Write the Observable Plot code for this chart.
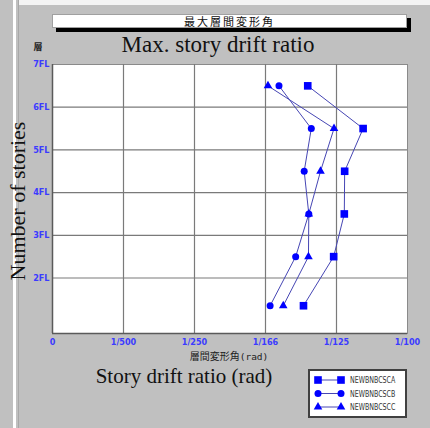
<!DOCTYPE html>
<html>
<head>
<meta charset="utf-8">
<script src="https://cdn.jsdelivr.net/npm/d3@7"></script>
<script src="https://cdn.jsdelivr.net/npm/@observablehq/plot@0.6"></script>
<style>
  html, body { margin: 0; padding: 0; background: #c0c0c0; }
  #wrap { position: relative; width: 430px; height: 428px; overflow: hidden; background: #c0c0c0; }
  .abs { position: absolute; }
  #chart { position: absolute; left: 0; top: 0; }
  .serif { font-family: "Liberation Serif", "DejaVu Serif", serif; color: #111; white-space: nowrap; }
</style>
</head>
<body>
<div id="wrap">
  <div class="abs" style="left:13px;top:0;width:3px;height:428px;background:#ffffff"></div>
  <div class="abs" style="left:18px;top:0;width:1px;height:428px;background:#a8a8a8"></div>
  <div class="abs" style="left:19px;top:0;width:411px;height:5px;background:#f4f4f4"></div>
  <div id="chart"></div>
  <div class="abs" id="titlebox" style="left:52px;top:14px;width:353px;height:12px;background:#fff;border:1px solid #a0a0a0;box-shadow:4px 4px 0 #000;font:11px 'Noto Sans CJK JP',sans-serif;letter-spacing:2px;line-height:12px;text-align:center;color:#111"></div>
  <div class="abs serif" id="title" style="left:0;width:436px;top:33px;text-align:center;font-size:23px;line-height:24px"></div>
  <div class="abs" id="ylabTop" style="left:32px;top:41px;width:12px;text-align:center;font:bold 9px 'Noto Sans CJK JP',sans-serif;line-height:11px;color:#222"></div>
  <div class="abs" id="xsub" style="left:129px;width:200px;top:351px;height:10px;text-align:center;font:10px 'Noto Sans CJK JP',sans-serif;line-height:10px;color:#222"></div>
  <div class="abs serif" id="xlab" style="left:0;width:368px;top:365.5px;text-align:center;font-size:21px;line-height:20px"></div>
  <div class="abs serif" id="ylab" style="left:18px;top:201px;transform:translate(-50%,-50%) rotate(-90deg);font-size:22px;line-height:24px"></div>
  <div class="abs" id="legend" style="left:308px;top:369px;width:95px;height:45px;background:#fff;border:2px solid #404040"></div>
</div>
<script>
// ---- data ----
const stories = [6.5, 5.5, 4.5, 3.5, 2.5, 1.35];
const seriesNames = ["NEWBNBCSCA", "NEWBNBCSCB", "NEWBNBCSCC"];
const seriesA = [0.00719, 0.00875, 0.00823, 0.00822, 0.00792, 0.00707];
const seriesB = [0.00638, 0.00729, 0.00709, 0.00722, 0.00685, 0.00613];
const seriesC = [0.00607, 0.00793, 0.00755, 0.00722, 0.00721, 0.00650];
const seriesSymbols = ["square", "circle", "triangle"];
const xTickValues = [0, 0.002, 0.004, 0.006, 0.008, 0.010];
const xTickLabels = ["0", "1/500", "1/250", "1/166", "1/125", "1/100"];
const yTickValues = [2, 3, 4, 5, 6, 7];
const yTickLabels = ["2FL", "3FL", "4FL", "5FL", "6FL", "7FL"];
const titleJa = "最大層間変形角";
const titleEn = "Max. story drift ratio";
const xLabelJa = "層間変形角";
const xLabelEn = "Story drift ratio (rad)";
const yLabelJa = "層";
const yLabelEn = "Number of stories";

// ---- build table ----
const allSeries = [seriesA, seriesB, seriesC];
const rows = [];
allSeries.forEach((vals, i) => {
  vals.forEach((v, j) => rows.push({series: seriesNames[i], symbol: seriesSymbols[i], x: v, y: stories[j]}));
});

const tickBlue = "#3b3bff";
const narrow = "'DejaVu Sans Condensed', 'DejaVu Sans', sans-serif";
const sizeFor = s => s === "square" ? 4.3 : s === "circle" ? 3.5 : 3.2;

const chart = Plot.plot({
  width: 430,
  height: 428,
  marginLeft: 52,
  marginRight: 23,
  marginTop: 64,
  marginBottom: 95,
  style: {background: "transparent", fontFamily: narrow, fontSize: "9px", fontWeight: "bold"},
  x: {domain: [0, 0.01], label: null},
  y: {domain: [0.7, 7], label: null},
  marks: [
    Plot.frame({fill: "white", stroke: "#8a8a8a"}),
    Plot.ruleX(xTickValues.slice(1, -1), {stroke: "#7a7a7a", strokeWidth: 1.2}),
    Plot.ruleY(yTickValues.slice(0, -1), {stroke: "#7a7a7a", strokeWidth: 1.2}),
    Plot.ruleX([0], {stroke: "#5a5a5a", strokeWidth: 1.5}),
    Plot.ruleY([0.7], {stroke: "#5a5a5a", strokeWidth: 1.5}),
    Plot.axisX({ticks: xTickValues, tickSize: 0, tickPadding: 5, tickFormat: (d, i) => xTickLabels[i], fill: tickBlue}),
    Plot.axisY({ticks: yTickValues, tickSize: 0, tickPadding: 3, tickFormat: (d, i) => yTickLabels[i], fill: tickBlue}),
    Plot.line(rows, {x: "x", y: "y", z: "series", stroke: "#4646b4", strokeWidth: 1}),
    ...seriesSymbols.map(sym => Plot.dot(rows.filter(d => d.symbol === sym), {x: "x", y: "y", symbol: () => sym, fill: "#0000ff", stroke: "none", r: sizeFor(sym)}))
  ]
});
document.getElementById("chart").appendChild(chart);

document.getElementById("titlebox").textContent = titleJa;
document.getElementById("title").textContent = titleEn;
document.getElementById("ylabTop").textContent = yLabelJa;
document.getElementById("xsub").innerHTML = xLabelJa + "<span style=\"font:9.5px 'DejaVu Sans Mono',monospace\">(rad)</span>";
document.getElementById("xlab").textContent = xLabelEn;
document.getElementById("ylab").textContent = yLabelEn;

// ---- legend ----
const ns = "http://www.w3.org/2000/svg";
const lg = document.createElementNS(ns, "svg");
lg.setAttribute("width", 95); lg.setAttribute("height", 45);
seriesNames.forEach((name, i) => {
  const cy = 9 + i * 13.5;
  const line = document.createElementNS(ns, "line");
  line.setAttribute("x1", 8); line.setAttribute("x2", 31);
  line.setAttribute("y1", cy); line.setAttribute("y2", cy);
  line.setAttribute("stroke", "#4646b4");
  lg.appendChild(line);
  const sym = d3.symbol(({square: d3.symbolSquare, circle: d3.symbolCircle, triangle: d3.symbolTriangle})[seriesSymbols[i]], Math.PI * sizeFor(seriesSymbols[i]) ** 2)();
  [8, 31].forEach(cx => {
    const p = document.createElementNS(ns, "path");
    p.setAttribute("d", sym);
    p.setAttribute("transform", `translate(${cx},${cy})`);
    p.setAttribute("fill", "#0000ff");
    lg.appendChild(p);
  });
  const t = document.createElementNS(ns, "text");
  t.setAttribute("transform", `translate(40,${cy}) scale(0.78,1)`);
  t.setAttribute("dy", "0.35em");
  t.setAttribute("font-family", "'DejaVu Sans Condensed', sans-serif");
  t.setAttribute("font-size", "9px");
  t.setAttribute("fill", "#333");
  t.textContent = name;
  lg.appendChild(t);
});
document.getElementById("legend").appendChild(lg);
</script>
</body>
</html>
